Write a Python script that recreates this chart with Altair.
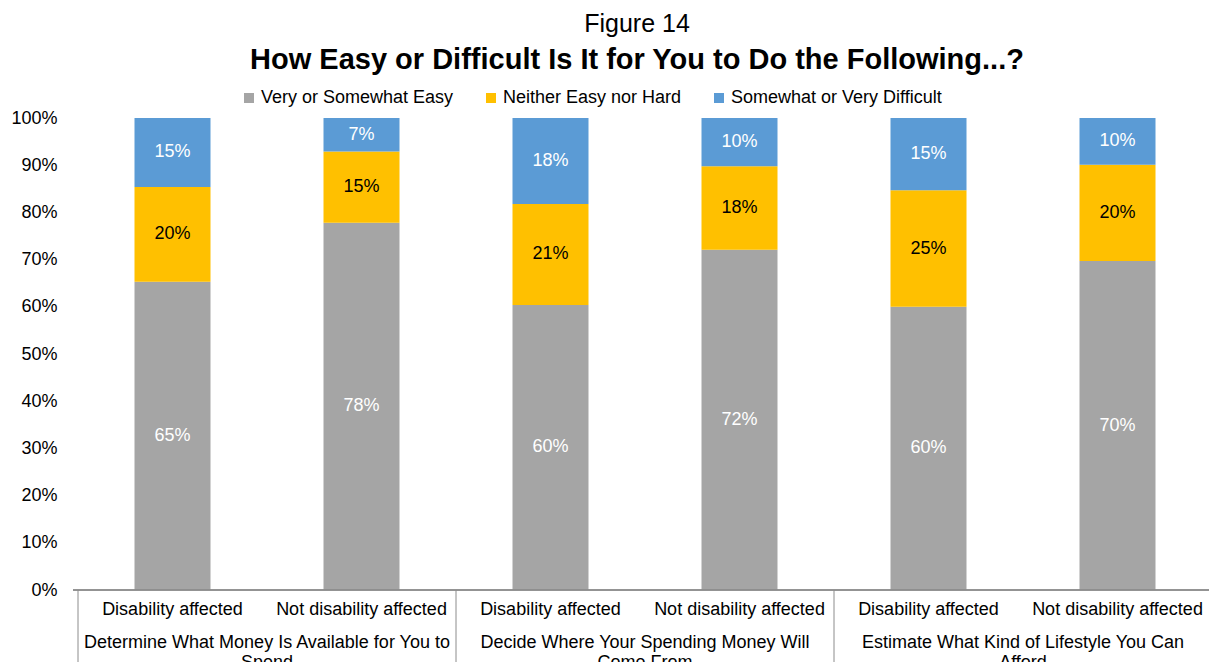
import altair as alt
import pandas as pd

groups = [
    "Determine What Money Is Available for You to\nSpend",
    "Decide Where Your Spending Money Will\nCome From",
    "Estimate What Kind of Lifestyle You Can\nAfford",
]
subgroups = ["Disability affected", "Not disability affected"]
series = ["Very or Somewhat Easy", "Neither Easy nor Hard", "Somewhat or Very Difficult"]
colors = ["#A5A5A5", "#FFC000", "#5B9BD5"]

easy = [65.3, 77.8, 60.4, 72.1, 60.0, 69.7]
neither = [20.1, 15.1, 21.4, 17.7, 24.7, 20.4]
difficult = [14.6, 7.1, 18.2, 10.2, 15.3, 9.9]
y_ticks = [0, 10, 20, 30, 40, 50, 60, 70, 80, 90, 100]

W, H = 1144, 472
n_bars = len(groups) * len(subgroups)

rows = []
for b in range(n_bars):
    for s, vals in enumerate([easy, neither, difficult]):
        rows.append({"pos": b + 0.5, "bar": b, "series": series[s], "ord": s, "value": vals[b]})
df = pd.DataFrame(rows)

sub_df = pd.DataFrame({"pos": [b + 0.5 for b in range(n_bars)],
                       "label": [subgroups[b % len(subgroups)] for b in range(n_bars)]})
grp_df = pd.DataFrame({"pos": [g * len(subgroups) + len(subgroups) / 2 for g in range(len(groups))],
                       "label": groups})
sep_df = pd.DataFrame({"pos": [g * len(subgroups) for g in range(len(groups) + 1)]})

xscale = alt.Scale(domain=[0, n_bars], nice=False, zero=False)
yscale = alt.Scale(domain=[0, 100], nice=False)

base = alt.Chart(df).transform_stack(
    stack="value", groupby=["bar"], as_=["start", "end"],
    sort=[alt.SortField("ord", order="ascending")]
)

bars = base.mark_bar(size=76).encode(
    x=alt.X("pos:Q", scale=xscale, axis=None),
    y=alt.Y("start:Q", scale=yscale, title=None,
            axis=alt.Axis(values=y_ticks, labelExpr="datum.value + '%'", grid=False,
                          domain=False, ticks=False, labelFontSize=18, labelColor="#000000",
                          labelPadding=16)),
    y2="end:Q",
    color=alt.Color("series:N", scale=alt.Scale(domain=series, range=colors),
                    legend=alt.Legend(title=None, orient="none", direction="horizontal",
                                      legendX=167, legendY=-29, symbolType="square",
                                      symbolSize=100, symbolStrokeWidth=0, labelFontSize=18,
                                      labelColor="#000000", columnPadding=28, labelOffset=3,
                                      labelLimit=0, padding=0)),
)

labels = base.transform_calculate(
    mid="(datum.start + datum.end) / 2",
    txt="format(datum.value, '.0f') + '%'",
).mark_text(fontSize=18).encode(
    x=alt.X("pos:Q", scale=xscale),
    y=alt.Y("mid:Q", scale=yscale),
    text="txt:N",
    color=alt.condition(alt.datum.series == "Neither Easy nor Hard",
                        alt.value("#000000"), alt.value("#FFFFFF")),
)

baseline = alt.Chart(sep_df).mark_rule(color="#8C8C8C", strokeWidth=1).encode(
    x=alt.value(0), x2=alt.value(W), y=alt.value(H)
)

seps = alt.Chart(sep_df).mark_rule(color="#8C8C8C", strokeWidth=1).encode(
    x=alt.X("pos:Q", scale=xscale), y=alt.value(H), y2=alt.value(H + 95)
)

sub_text = alt.Chart(sub_df).mark_text(fontSize=18, color="#000000").encode(
    x=alt.X("pos:Q", scale=xscale), y=alt.value(H + 20), text="label:N"
)

grp_text = alt.Chart(grp_df).mark_text(fontSize=18, color="#000000", lineBreak="\n",
                                       lineHeight=20, baseline="middle").encode(
    x=alt.X("pos:Q", scale=xscale), y=alt.value(H + 53), text="label:N"
)

chart = alt.layer(bars, labels, baseline, seps, sub_text, grp_text).properties(
    width=W, height=H,
    title=alt.Title("Figure 14",
                    subtitle="How Easy or Difficult Is It for You to Do the Following...?",
                    fontSize=25, fontWeight="normal", color="#000000",
                    subtitleFontSize=29, subtitleFontWeight="bold", subtitleColor="#000000",
                    subtitlePadding=9, anchor="middle", frame="group", offset=14, dx=-8),
    autosize=alt.AutoSizeParams(type="none"),
    padding={"left": 65, "top": 110, "right": -8, "bottom": 72},
).configure(font="Liberation Sans").configure_view(stroke=None)

chart.save("out.html", embed_options={"renderer": "svg", "actions": False})
